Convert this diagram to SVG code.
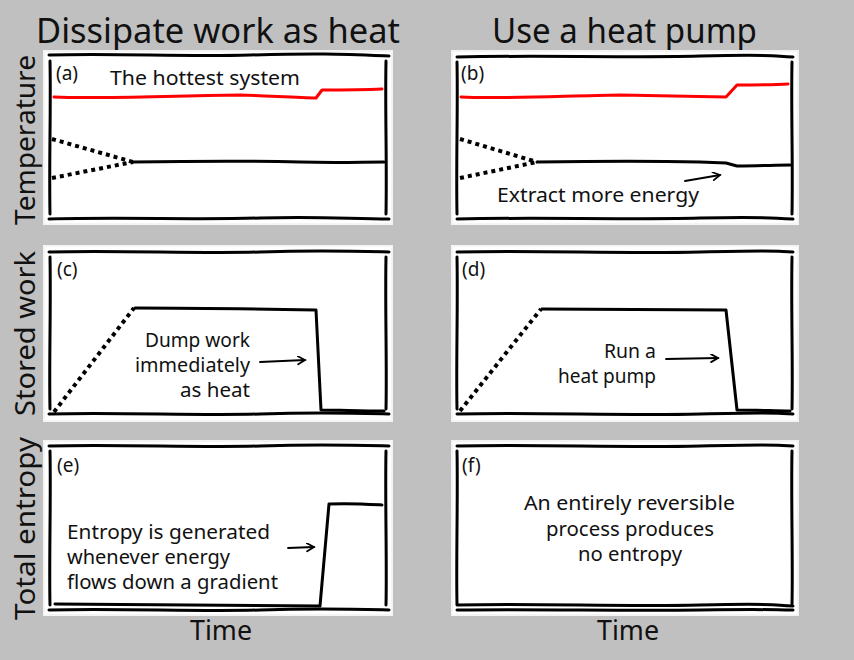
<svg xmlns="http://www.w3.org/2000/svg" width="854" height="660" viewBox="0 0 854 660">
<defs>
<style>
.bgr{fill:#c0c0c0}
.pane{fill:#fff;stroke:#f4f4f4;stroke-width:2}
.frame{fill:none;stroke:#000;stroke-width:3;stroke-linecap:round;stroke-linejoin:round}
.curve{fill:none;stroke:#000;stroke-width:3;stroke-linecap:round;stroke-linejoin:round}
.red{fill:none;stroke:#f00;stroke-width:3;stroke-linecap:round;stroke-linejoin:round}
.dot{fill:none;stroke:#000;stroke-width:4;stroke-dasharray:4,4}
.arr{fill:none;stroke:#000;stroke-width:1.8;stroke-linecap:round}
text{font-family:"Comic Sans MS","Noto Sans","DejaVu Sans",sans-serif;fill:#111}
.title{font-size:34px}
.axis{font-size:27px}
.lab{font-size:19px}
.note{font-size:19px}
</style>
<marker id="chev" markerWidth="10" markerHeight="10" refX="8" refY="4" orient="auto" markerUnits="userSpaceOnUse">
<path d="M1,0 L8,4 L1,8" fill="none" stroke="#000" stroke-width="1.8" stroke-linecap="round"/>
</marker>
</defs>
<rect class="bgr" x="0" y="0" width="854" height="660"/>

<g id="titles">
<text class="title" x="36" y="43" textLength="364" lengthAdjust="spacingAndGlyphs">Dissipate work as heat</text>
<text class="title" x="492" y="43" textLength="265" lengthAdjust="spacingAndGlyphs">Use a heat pump</text>
</g>

<g id="ylabels">
<text class="axis" transform="translate(35,225) rotate(-90)" textLength="170" lengthAdjust="spacingAndGlyphs">Temperature</text>
<text class="axis" transform="translate(35,416) rotate(-90)" textLength="165" lengthAdjust="spacingAndGlyphs">Stored work</text>
<text class="axis" transform="translate(35,620) rotate(-90)" textLength="183" lengthAdjust="spacingAndGlyphs">Total entropy</text>
</g>

<g id="xlabels">
<text class="axis" x="190" y="640" textLength="62" lengthAdjust="spacingAndGlyphs">Time</text>
<text class="axis" x="597" y="640" textLength="62" lengthAdjust="spacingAndGlyphs">Time</text>
</g>

<g id="panel-a">
<rect class="pane" x="44" y="51" width="348" height="173"/>
<path class="frame" d="M49,55 C120,53 180,57 250,55 S340,54 389,56"/>
<path class="frame" d="M49,219 C120,217 200,220 260,218 S350,219 389,219"/>
<path class="frame" d="M50,61 C51,110 49,160 50,214"/>
<path class="frame" d="M386,61 C385,110 387,160 386,214"/>
<text class="lab" x="56" y="80">(a)</text>
<text class="note" x="110" y="85" textLength="190" lengthAdjust="spacingAndGlyphs">The hottest system</text>
<path class="red" d="M54,97 C100,99 160,96 240,95 C270,96 300,98 316,98 L322,90 C340,90 360,90 382,89"/>
<path class="dot" d="M52,139 L133,162"/>
<path class="dot" d="M52,178 L133,162"/>
<path class="curve" d="M133,162 C200,161 260,161 300,162 C340,163 360,162 384,162"/>
</g>

<g id="panel-b">
<rect class="pane" x="452" y="51" width="346" height="173"/>
<path class="frame" d="M457,57 C540,55 620,58 700,56 S770,56 793,57"/>
<path class="frame" d="M457,219 C540,217 620,220 700,218 S770,219 793,219"/>
<path class="frame" d="M457,62 C458,110 456,160 457,214"/>
<path class="frame" d="M792,62 C791,110 793,160 792,214"/>
<text class="lab" x="461" y="80">(b)</text>
<path class="red" d="M461,97 C500,99 560,96 620,95 C680,96 710,97 726,97 L737,85 C760,85 775,85 788,84"/>
<path class="dot" d="M460,139 L537,162"/>
<path class="dot" d="M460,178 L537,162"/>
<path class="curve" d="M537,162 C600,161 660,161 700,162 L726,163 L737,166 C760,166 775,165 790,165"/>
<path class="arr" d="M685,181 L720,175" marker-end="url(#chev)"/>
<text class="note" x="497" y="202" textLength="202" lengthAdjust="spacingAndGlyphs">Extract more energy</text>
</g>

<g id="panel-c">
<rect class="pane" x="44" y="246" width="348" height="175"/>
<path class="frame" d="M49,252 C120,250 200,254 260,252 S350,251 389,252"/>
<path class="frame" d="M49,414 C120,412 200,416 260,414 S350,413 389,414"/>
<path class="frame" d="M50,257 C51,310 49,360 50,409"/>
<path class="frame" d="M386,257 C385,310 387,360 386,409"/>
<text class="lab" x="57" y="276">(c)</text>
<path class="dot" d="M54,412 L134,308"/>
<path class="curve" d="M135,308 C200,308 260,309 316,310 L321,410 C340,410 360,411 384,411"/>
<text class="note" x="145" y="347" textLength="105" lengthAdjust="spacingAndGlyphs">Dump work</text>
<text class="note" x="135" y="372" textLength="115" lengthAdjust="spacingAndGlyphs">immediately</text>
<text class="note" x="180" y="397" textLength="70" lengthAdjust="spacingAndGlyphs">as heat</text>
<path class="arr" d="M260,362 L305,360" marker-end="url(#chev)"/>
</g>

<g id="panel-d">
<rect class="pane" x="452" y="246" width="346" height="175"/>
<path class="frame" d="M457,252 C540,250 620,254 700,252 S770,251 793,252"/>
<path class="frame" d="M457,414 C540,412 620,416 700,414 S770,413 793,414"/>
<path class="frame" d="M457,257 C458,310 456,360 457,409"/>
<path class="frame" d="M792,257 C791,310 793,360 792,409"/>
<text class="lab" x="462" y="276">(d)</text>
<path class="dot" d="M460,411 L541,309"/>
<path class="curve" d="M542,309 C600,309 660,310 726,310 L737,410 C760,410 775,411 790,411"/>
<text class="note" x="604" y="358" textLength="52" lengthAdjust="spacingAndGlyphs">Run a</text>
<text class="note" x="558" y="383" textLength="98" lengthAdjust="spacingAndGlyphs">heat pump</text>
<path class="arr" d="M666,359 L718,358" marker-end="url(#chev)"/>
</g>

<g id="panel-e">
<rect class="pane" x="44" y="441" width="348" height="174"/>
<path class="frame" d="M49,446 C120,444 200,448 260,446 S350,445 389,446"/>
<path class="frame" d="M49,610 C120,608 200,612 260,610 S350,609 389,610"/>
<path class="frame" d="M50,451 C51,500 49,560 50,605"/>
<path class="frame" d="M386,451 C385,500 387,560 386,605"/>
<text class="lab" x="57" y="472">(e)</text>
<path class="curve" d="M55,604 C120,605 220,606 320,606 L329,504 C350,503 365,504 382,505"/>
<text class="note" x="67" y="539" textLength="203" lengthAdjust="spacingAndGlyphs">Entropy is generated</text>
<text class="note" x="67" y="564" textLength="163" lengthAdjust="spacingAndGlyphs">whenever energy</text>
<text class="note" x="67" y="589" textLength="211" lengthAdjust="spacingAndGlyphs">flows down a gradient</text>
<path class="arr" d="M288,548 L314,547" marker-end="url(#chev)"/>
</g>

<g id="panel-f">
<rect class="pane" x="452" y="441" width="346" height="174"/>
<path class="frame" d="M457,446 C540,444 620,448 700,446 S770,445 793,446"/>
<path class="frame" d="M457,605 C540,603 620,607 700,605 S770,605 793,606"/>
<path class="frame" d="M457,610 C540,609 620,611 700,610 S770,610 793,610"/>
<path class="frame" d="M457,451 C458,500 456,560 457,604"/>
<path class="frame" d="M792,451 C791,500 793,560 792,604"/>
<text class="lab" x="462" y="472">(f)</text>
<text class="note" x="524" y="510" textLength="211" lengthAdjust="spacingAndGlyphs">An entirely reversible</text>
<text class="note" x="546" y="536" textLength="168" lengthAdjust="spacingAndGlyphs">process produces</text>
<text class="note" x="578" y="561" textLength="104" lengthAdjust="spacingAndGlyphs">no entropy</text>
</g>
</svg>
